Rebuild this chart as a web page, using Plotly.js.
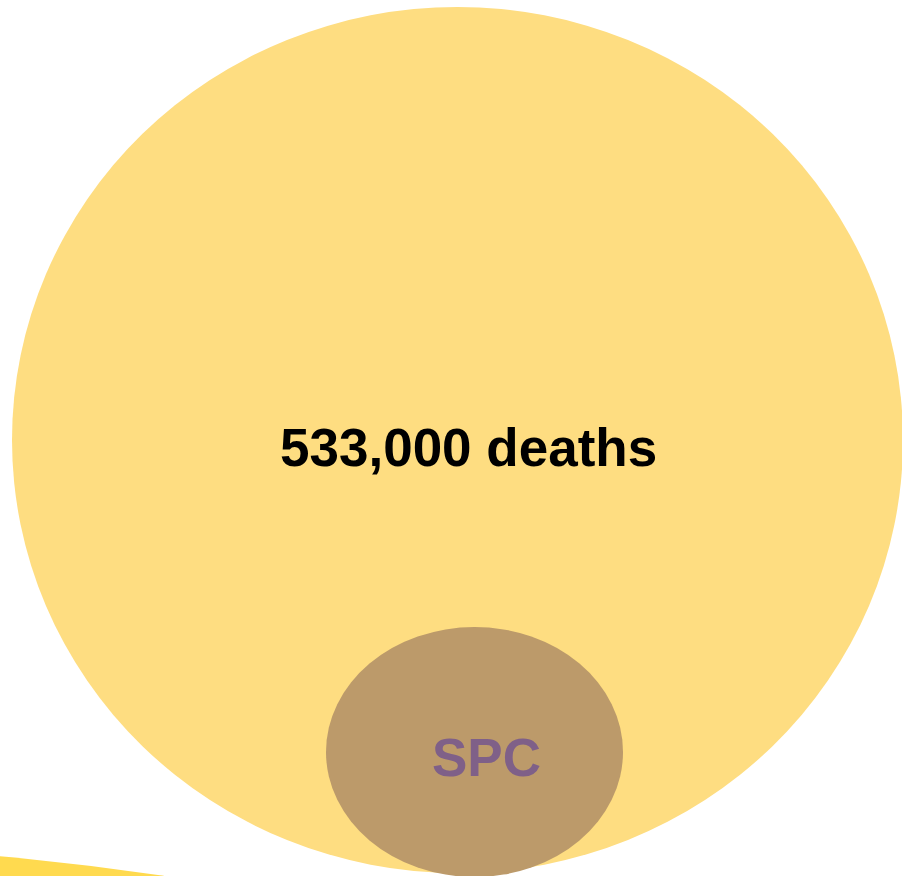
<!DOCTYPE html>
<html>
<head>
<meta charset="utf-8">
<script src="https://cdn.plot.ly/plotly-3.0.1.min.js"></script>
<style>html,body{margin:0;padding:0;background:#fff;}#chart{width:902px;height:876px;}</style>
</head>
<body>
<div id="chart"></div>
<script>
// Data
var categories = ["All deaths", "SPC", "Other"];
var labels = ["533,000 deaths", "SPC", ""];
var colors = ["#FEDD81", "#BC9A6A", "#FFDA4F"];
var labelColors = ["#000000", "#7F6088", "#000000"];

// Geometry (pixel space of the canvas)
var geom = [
  {x0: 12, x1: 903, y0: 7, y1: 873, tx: 468, ty: 447},
  {x0: 326, x1: 623, y0: 627, y1: 877, tx: 486, ty: 757},
  {x0: -3051, x1: 2549, y0: 845, y1: 6445, tx: null, ty: null}
];

var order = [2, 0, 1];
var shapes = order.map(function(i){
  return {type: "circle", xref: "x", yref: "y",
    x0: geom[i].x0, x1: geom[i].x1, y0: geom[i].y0, y1: geom[i].y1,
    fillcolor: colors[i], line: {width: 0}, layer: "below"};
});

var annotations = [];
for (var i = 0; i < labels.length; i++) {
  if (!labels[i]) continue;
  annotations.push({x: geom[i].tx, y: geom[i].ty, xref: "x", yref: "y",
    text: "<b>" + labels[i] + "</b>", showarrow: false,
    xanchor: "center", yanchor: "middle",
    font: {family: "Arial, Liberation Sans, sans-serif", size: 53, color: labelColors[i]}});
}

var layout = {
  width: 902, height: 876,
  margin: {l: 0, r: 0, t: 0, b: 0},
  paper_bgcolor: "#ffffff", plot_bgcolor: "#ffffff",
  xaxis: {range: [0, 902], visible: false, fixedrange: true},
  yaxis: {range: [876, 0], visible: false, fixedrange: true},
  shapes: shapes,
  annotations: annotations,
  showlegend: false
};

Plotly.newPlot("chart", [{x: [], y: [], type: "scatter", hoverinfo: "skip"}], layout, {displayModeBar: false, staticPlot: true});
</script>
</body>
</html>
